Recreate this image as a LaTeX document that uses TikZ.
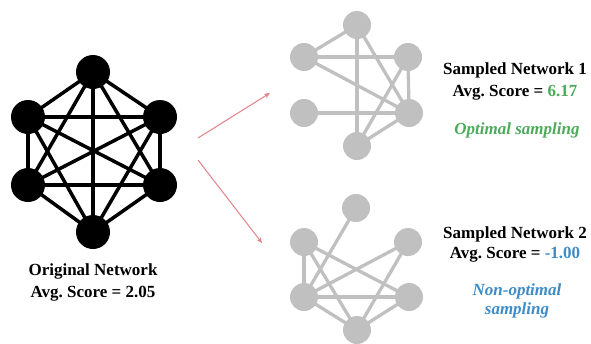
\documentclass[tikz,border=0pt]{standalone}
\usepackage{fontspec}
\setmainfont{Liberation Serif}
\usepackage{xcolor}
\usepackage{tikz}
\usetikzlibrary{arrows.meta,positioning}

\definecolor{nodegray}{RGB}{192,192,192}
\definecolor{goodgreen}{RGB}{76,170,90}
\definecolor{badblue}{RGB}{60,140,200}
\definecolor{arrowred}{RGB}{225,130,135}

\tikzset{
    blackdot/.style={circle, fill=black, minimum size=34pt, inner sep=0pt},
    graydot/.style={circle, fill=nodegray, minimum size=28pt, inner sep=0pt},
    blackedge/.style={line width=3.5pt, black, shorten <=-2pt, shorten >=-2pt},
    grayedge/.style={line width=3.3pt, nodegray, shorten <=-2pt, shorten >=-2pt},
    caption/.style={font=\fontsize{17}{22}\selectfont\bfseries, align=center}
}

\begin{document}
\begin{tikzpicture}[x=1pt,y=-1pt]
    \useasboundingbox (0,0) rectangle (591,343);

    % original network
    \node[blackdot] (o1) at (93,72) {};
    \node[blackdot] (o2) at (28,117) {};
    \node[blackdot] (o3) at (160,117) {};
    \node[blackdot] (o4) at (28,185) {};
    \node[blackdot] (o5) at (160,185) {};
    \node[blackdot] (o6) at (93,232) {};
    \foreach \a/\b in {1/2,1/3,1/4,1/5,1/6,2/3,2/4,2/5,2/6,3/4,3/5,3/6,4/5,4/6,5/6}
        \draw[blackedge] (o\a) -- (o\b);

    % sampled network 1
    \node[graydot] (p1) at (357,25) {};
    \node[graydot] (p2) at (304,57) {};
    \node[graydot] (p3) at (408,57) {};
    \node[graydot] (p4) at (304,113) {};
    \node[graydot] (p5) at (409,113) {};
    \node[graydot] (p6) at (357,146) {};
    \foreach \a/\b in {1/2,1/6,1/5,2/3,2/5,3/5,3/6,4/5,5/6}
        \draw[grayedge] (p\a) -- (p\b);

    % sampled network 2
    \node[graydot] (q1) at (356,208) {};
    \node[graydot] (q2) at (304,242) {};
    \node[graydot] (q3) at (408,242) {};
    \node[graydot] (q4) at (304,297) {};
    \node[graydot] (q5) at (409,297) {};
    \node[graydot] (q6) at (357,330) {};
    \foreach \a/\b in {1/4,2/4,2/5,2/6,3/4,3/6,4/5,4/6,5/6}
        \draw[grayedge] (q\a) -- (q\b);

    % arrows
    \coordinate (a0) at (198,138);
    \coordinate (a1) at (270,93);
    \coordinate (b0) at (198,160);
    \coordinate (b1) at (262,243);
    \draw[-{Stealth[length=6pt,width=5pt]}, arrowred, line width=1pt] (a0) -- (a1);
    \draw[-{Stealth[length=6pt,width=5pt]}, arrowred, line width=1pt] (b0) -- (b1);

    % labels
    \node[caption] (orig) at (93,282) {Original Network\\Avg.\ Score = 2.05};
    \node[caption] (s1) at (515,81) {Sampled Network 1\\Avg.\ Score = \textcolor{goodgreen}{6.17}};
    \node[caption, goodgreen, font=\fontsize{17}{22}\selectfont\bfseries\itshape] (opt) at (517,130) {Optimal sampling};
    \node[caption, font=\fontsize{17}{20}\selectfont\bfseries] (s2) at (515,244) {Sampled Network 2\\Avg.\ Score = \textcolor{badblue}{-1.00}};
    \node[caption, badblue, font=\fontsize{17}{19}\selectfont\bfseries\itshape] (nonopt) at (517,301) {Non-optimal\\sampling};
\end{tikzpicture}
\end{document}
